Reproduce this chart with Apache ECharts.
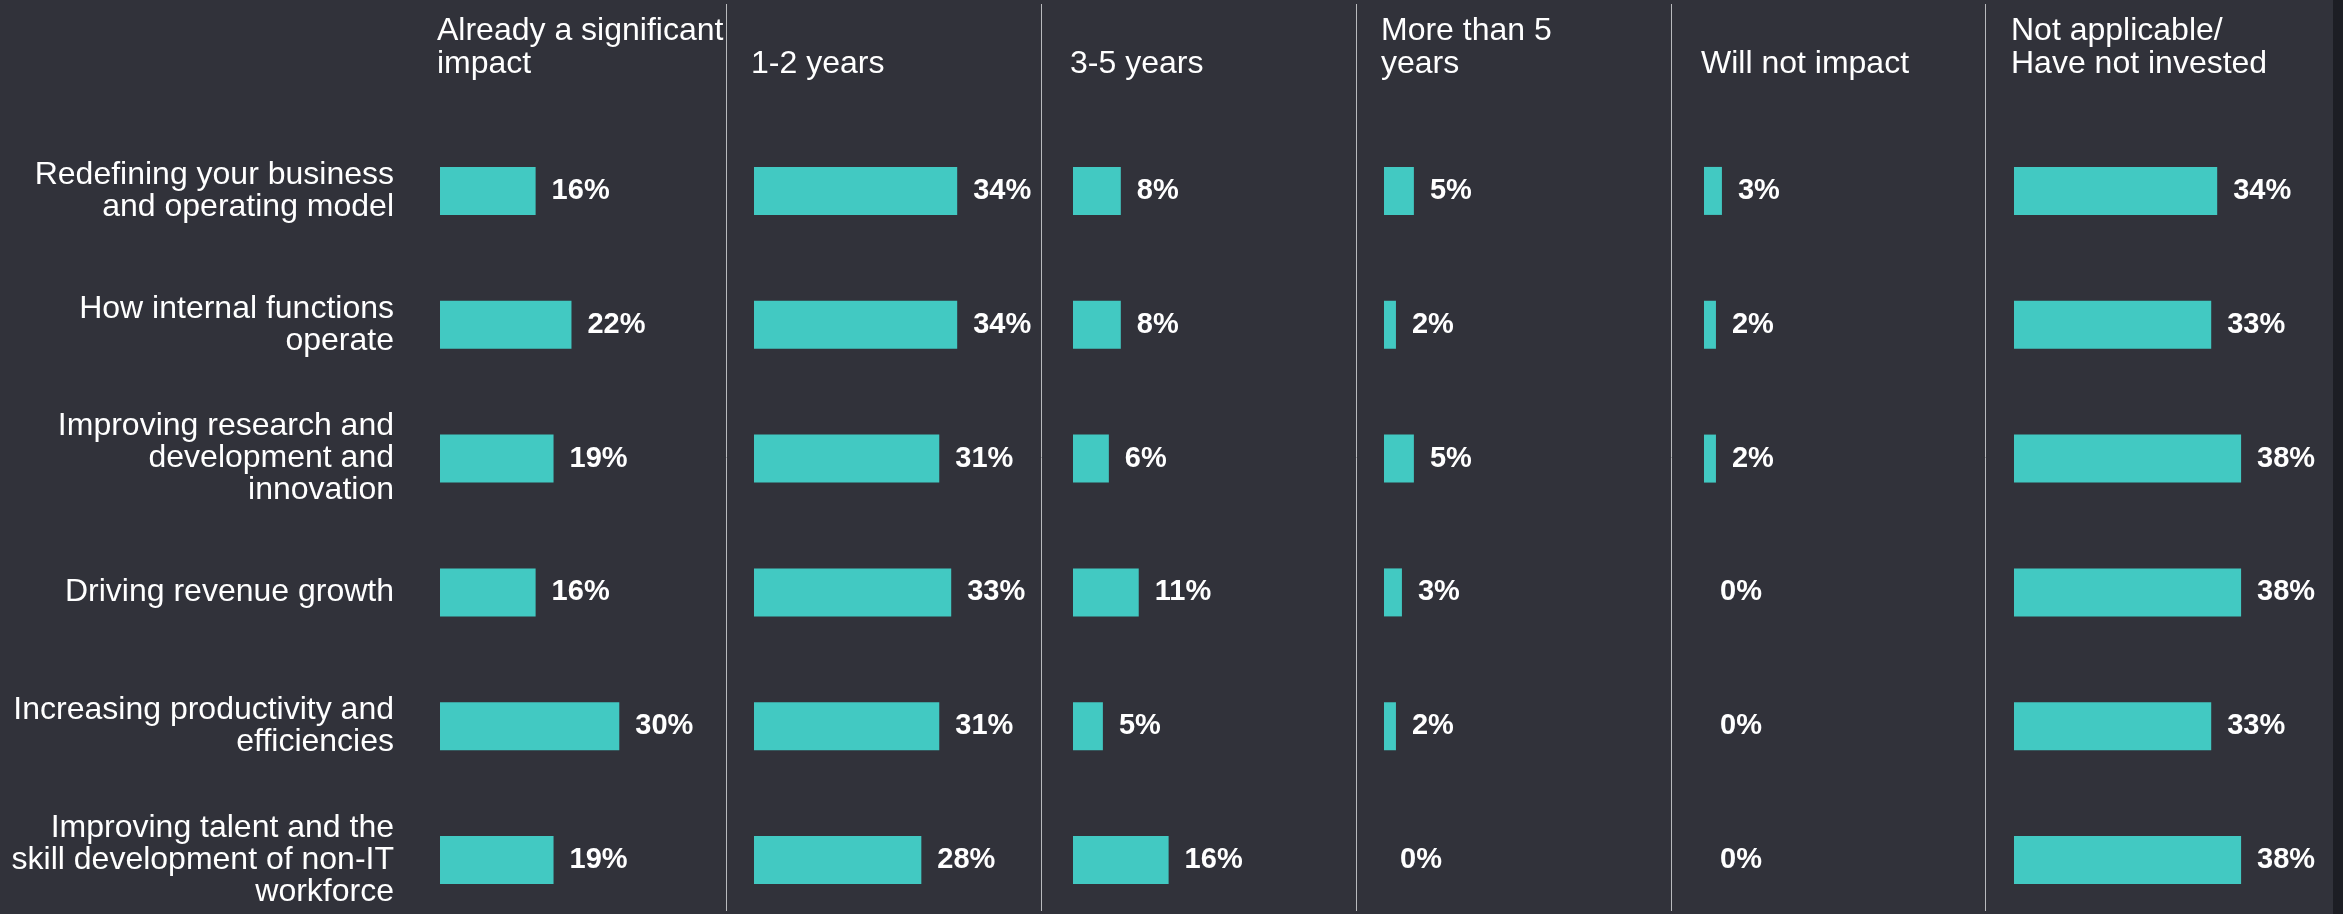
<!DOCTYPE html>
<html>
<head>
<meta charset="utf-8">
<script src="https://cdn.jsdelivr.net/npm/echarts@6/dist/echarts.min.js"></script>
<style>
html,body{margin:0;padding:0;background:#31323a;}
#chart{width:2343px;height:914px;}
</style>
</head>
<body>
<div id="chart"></div>
<script>
//行类别
var categories = [
	'Redefining your business\nand operating model',
	'How internal functions\noperate',
	'Improving research and\ndevelopment and\ninnovation',
	'Driving revenue growth',
	'Increasing productivity and\nefficiencies',
	'Improving talent and the\nskill development of non-IT\nworkforce'
];
//各列标题
var panelTitles = [
	'Already a significant\nimpact',
	'1-2 years',
	'3-5 years',
	'More than 5\nyears',
	'Will not impact',
	'Not applicable/\nHave not invested'
];
//各列数值(%)
var alreadyImpact = [16, 22, 19, 16, 30, 19];
var oneToTwo = [34, 34, 31, 33, 31, 28];
var threeToFive = [8, 8, 6, 11, 5, 16];
var moreThanFive = [5, 2, 5, 3, 2, 0];
var willNotImpact = [3, 2, 2, 0, 0, 0];
var notApplicable = [34, 33, 38, 38, 33, 38];

var seriesData = [alreadyImpact, oneToTwo, threeToFive, moreThanFive, willNotImpact, notApplicable];

var panelLeft = [440, 754, 1073, 1384, 1704, 2014];
var dividerX = [726.5, 1041.5, 1356.5, 1671.5, 1985.5];
var font = 'Liberation Sans, Arial, sans-serif';

var mychart = echarts.init(document.getElementById('chart'));

var grid = [], xAxis = [], yAxis = [], series = [], graphic = [];
for (var i = 0; i < seriesData.length; i++) {
	grid.push({ left: panelLeft[i], width: 251, top: 124, height: 803, outerBoundsMode: 'none', containLabel: false });
	xAxis.push({
		gridIndex: i, type: 'value', min: 0, max: 42,
		show: false
	});
	yAxis.push({
		gridIndex: i, type: 'category', data: categories, inverse: true,
		axisLine: { show: false }, axisTick: { show: false },
		splitLine: { show: false },
		axisLabel: {
			show: i == 0, margin: 46, color: '#ffffff',
			fontSize: 32, lineHeight: 32, fontFamily: font
		}
	});
	series.push({
		type: 'bar', xAxisIndex: i, yAxisIndex: i,
		data: seriesData[i], barWidth: 48,
		itemStyle: { color: '#42c9c2' },
		label: {
			show: true, position: 'right', distance: 16,
			formatter: '{c}%', color: '#ffffff',
			fontSize: 29, fontWeight: 'bold', fontFamily: font
		},
		silent: true
	});
	graphic.push({
		type: 'text', left: panelLeft[i] - 3, bottom: 914 - 81,
		style: {
			text: panelTitles[i], fill: '#ffffff',
			fontSize: 32, lineHeight: 33, fontFamily: font
		}
	});
}
for (var j = 0; j < dividerX.length; j++) {
	graphic.push({
		type: 'line',
		shape: { x1: dividerX[j], y1: 4, x2: dividerX[j], y2: 911 },
		style: { stroke: '#b9babd', lineWidth: 1 }
	});
}
//右侧深色边框
graphic.push({
	type: 'rect',
	shape: { x: 2333, y: 0, width: 10, height: 914 },
	style: { fill: '#1d1e24' }
});

var option = {
	backgroundColor: '#31323a',
	animation: false,
	grid: grid,
	xAxis: xAxis,
	yAxis: yAxis,
	series: series,
	graphic: graphic
};
mychart.setOption(option);
</script>
</body>
</html>
